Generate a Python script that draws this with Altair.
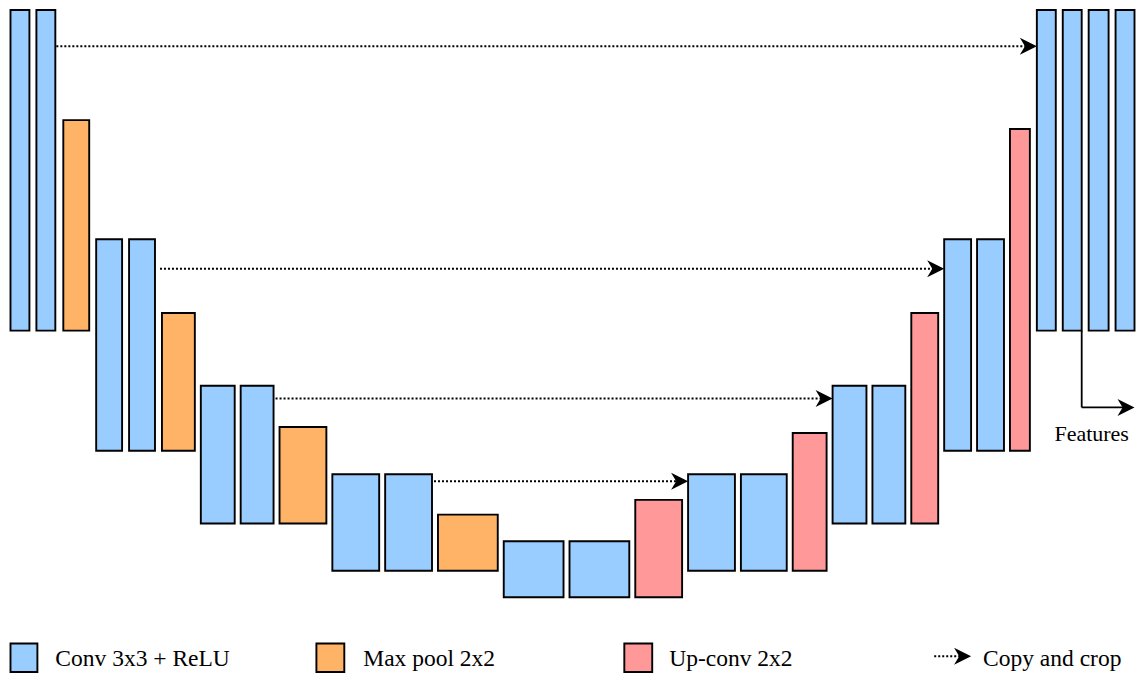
import altair as alt
import pandas as pd

# ---------------- data (diagram coordinates, image pixels) ----------------
block_kind = ["conv"] * 2 + ["pool"] + ["conv"] * 2 + ["pool"] + ["conv"] * 2 + ["pool"] + \
             ["conv"] * 2 + ["pool"] + ["conv"] * 2 + ["up"] + ["conv"] * 2 + ["up"] + \
             ["conv"] * 2 + ["up"] + ["conv"] * 2 + ["up"] + ["conv"] * 4
block_x0 = [11, 37, 64, 97, 130, 163, 202, 242, 281, 334, 387, 440, 506, 572, 638,
            691, 744, 796, 836, 876, 915, 948, 981, 1014, 1041, 1067, 1093, 1120]
block_x1 = [30, 56, 90, 123, 156, 196, 236, 275, 328, 381, 434, 500, 566, 632, 685,
            738, 790, 830, 870, 909, 942, 975, 1008, 1034, 1060, 1086, 1113, 1139]
block_y0 = [6, 6, 118, 239, 239, 314, 388, 388, 430, 478, 478, 519, 546, 546, 504,
            478, 478, 436, 388, 388, 314, 239, 239, 127, 6, 6, 6, 6]
block_y1 = [332, 332, 332, 454, 454, 454, 528, 528, 528, 576, 576, 576, 603, 603, 603,
            576, 576, 576, 528, 528, 528, 454, 454, 454, 332, 332, 332, 332]

# copy-and-crop connections
skip_x0 = [57, 161, 277, 436]
skip_tip = [1041, 948, 836, 691]
skip_y = [43, 269, 401, 485]

# legend
legend_kind = ["conv", "pool", "up"]
legend_label = ["Conv 3x3 + ReLU", "Max pool 2x2", "Up-conv 2x2", "Copy and crop"]
legend_sq_x0 = [11, 318, 627]
legend_sq_x1 = [38, 346, 655]
legend_text_x = [56, 365, 672, 987]
legend_arrow_x0 = [938]
legend_arrow_tip = [975]

kind_domain = ["conv", "pool", "up"]
kind_colors = ["#99CCFF", "#FFB366", "#FF9999"]

# ---------------- tables ----------------
blocks = pd.DataFrame({"kind": block_kind, "x0": block_x0, "x1": block_x1,
                       "y0": block_y0, "y1": block_y1})
leg_sq = pd.DataFrame({"kind": legend_kind, "x0": legend_sq_x0, "x1": legend_sq_x1,
                       "y0": [650] * 3, "y1": [679] * 3})
all_rects = pd.concat([blocks, leg_sq], ignore_index=True)

lines = pd.DataFrame({"x0": skip_x0 + legend_arrow_x0,
                      "x1": [t - 10 for t in skip_tip] + [t - 10 for t in legend_arrow_tip],
                      "y": skip_y + [663]})
arrows = pd.DataFrame({"x": skip_tip + legend_arrow_tip + [1139],
                       "y": skip_y + [663, 410]})
texts = pd.DataFrame({"x": legend_text_x, "y": [673] * 4, "label": legend_label})

feat_v = pd.DataFrame({"x": [1086], "y0": [332], "y1": [410]})
feat_h = pd.DataFrame({"x0": [1086], "x1": [1128], "y": [410]})
feat_t = pd.DataFrame({"x": [1096], "y": [444], "label": ["Features"]})

W, H = 1128, 665
xs = alt.Scale(domain=[8.5, 1140.5], nice=False, zero=False)
ys = alt.Scale(domain=[4, 680], nice=False, zero=False, reverse=True)

rects = alt.Chart(all_rects).mark_rect(stroke="black", strokeWidth=1.9).encode(
    x=alt.X("x0:Q", scale=xs, axis=None),
    x2="x1:Q",
    y=alt.Y("y0:Q", scale=ys, axis=None),
    y2="y1:Q",
    color=alt.Color("kind:N", scale=alt.Scale(domain=kind_domain, range=kind_colors), legend=None),
)

dotted = alt.Chart(lines).mark_rule(color="black", strokeWidth=2, strokeDash=[2, 2]).encode(
    x=alt.X("x0:Q", scale=xs, axis=None),
    x2="x1:Q",
    y=alt.Y("y:Q", scale=ys, axis=None),
)

heads = alt.Chart(arrows).mark_point(
    shape="M0,0 L-2,-1 L-1.4,0 L-2,1 Z", size=289, filled=True, color="black", opacity=1
).encode(
    x=alt.X("x:Q", scale=xs, axis=None),
    y=alt.Y("y:Q", scale=ys, axis=None),
)

fv = alt.Chart(feat_v).mark_rule(color="black", strokeWidth=1.8).encode(
    x=alt.X("x:Q", scale=xs, axis=None),
    y=alt.Y("y0:Q", scale=ys, axis=None),
    y2="y1:Q",
)
fh = alt.Chart(feat_h).mark_rule(color="black", strokeWidth=1.8).encode(
    x=alt.X("x0:Q", scale=xs, axis=None),
    x2="x1:Q",
    y=alt.Y("y:Q", scale=ys, axis=None),
)

legend_text = alt.Chart(texts).mark_text(
    align="left", baseline="alphabetic", font="Liberation Serif", fontSize=23.5, color="black"
).encode(
    x=alt.X("x:Q", scale=xs, axis=None),
    y=alt.Y("y:Q", scale=ys, axis=None),
    text="label:N",
)

feat_text = alt.Chart(feat_t).mark_text(
    align="center", baseline="alphabetic", font="Liberation Serif", fontSize=22, color="black"
).encode(
    x=alt.X("x:Q", scale=xs, axis=None),
    y=alt.Y("y:Q", scale=ys, axis=None),
    text="label:N",
)

chart = alt.layer(rects, dotted, heads, fv, fh, legend_text, feat_text).properties(
    width=W, height=H, padding=0, autosize=alt.AutoSizeParams(type="none"),
    background="white",
).configure_view(stroke=None)

chart.save("out.html", embed_options={"renderer": "svg", "actions": False})
